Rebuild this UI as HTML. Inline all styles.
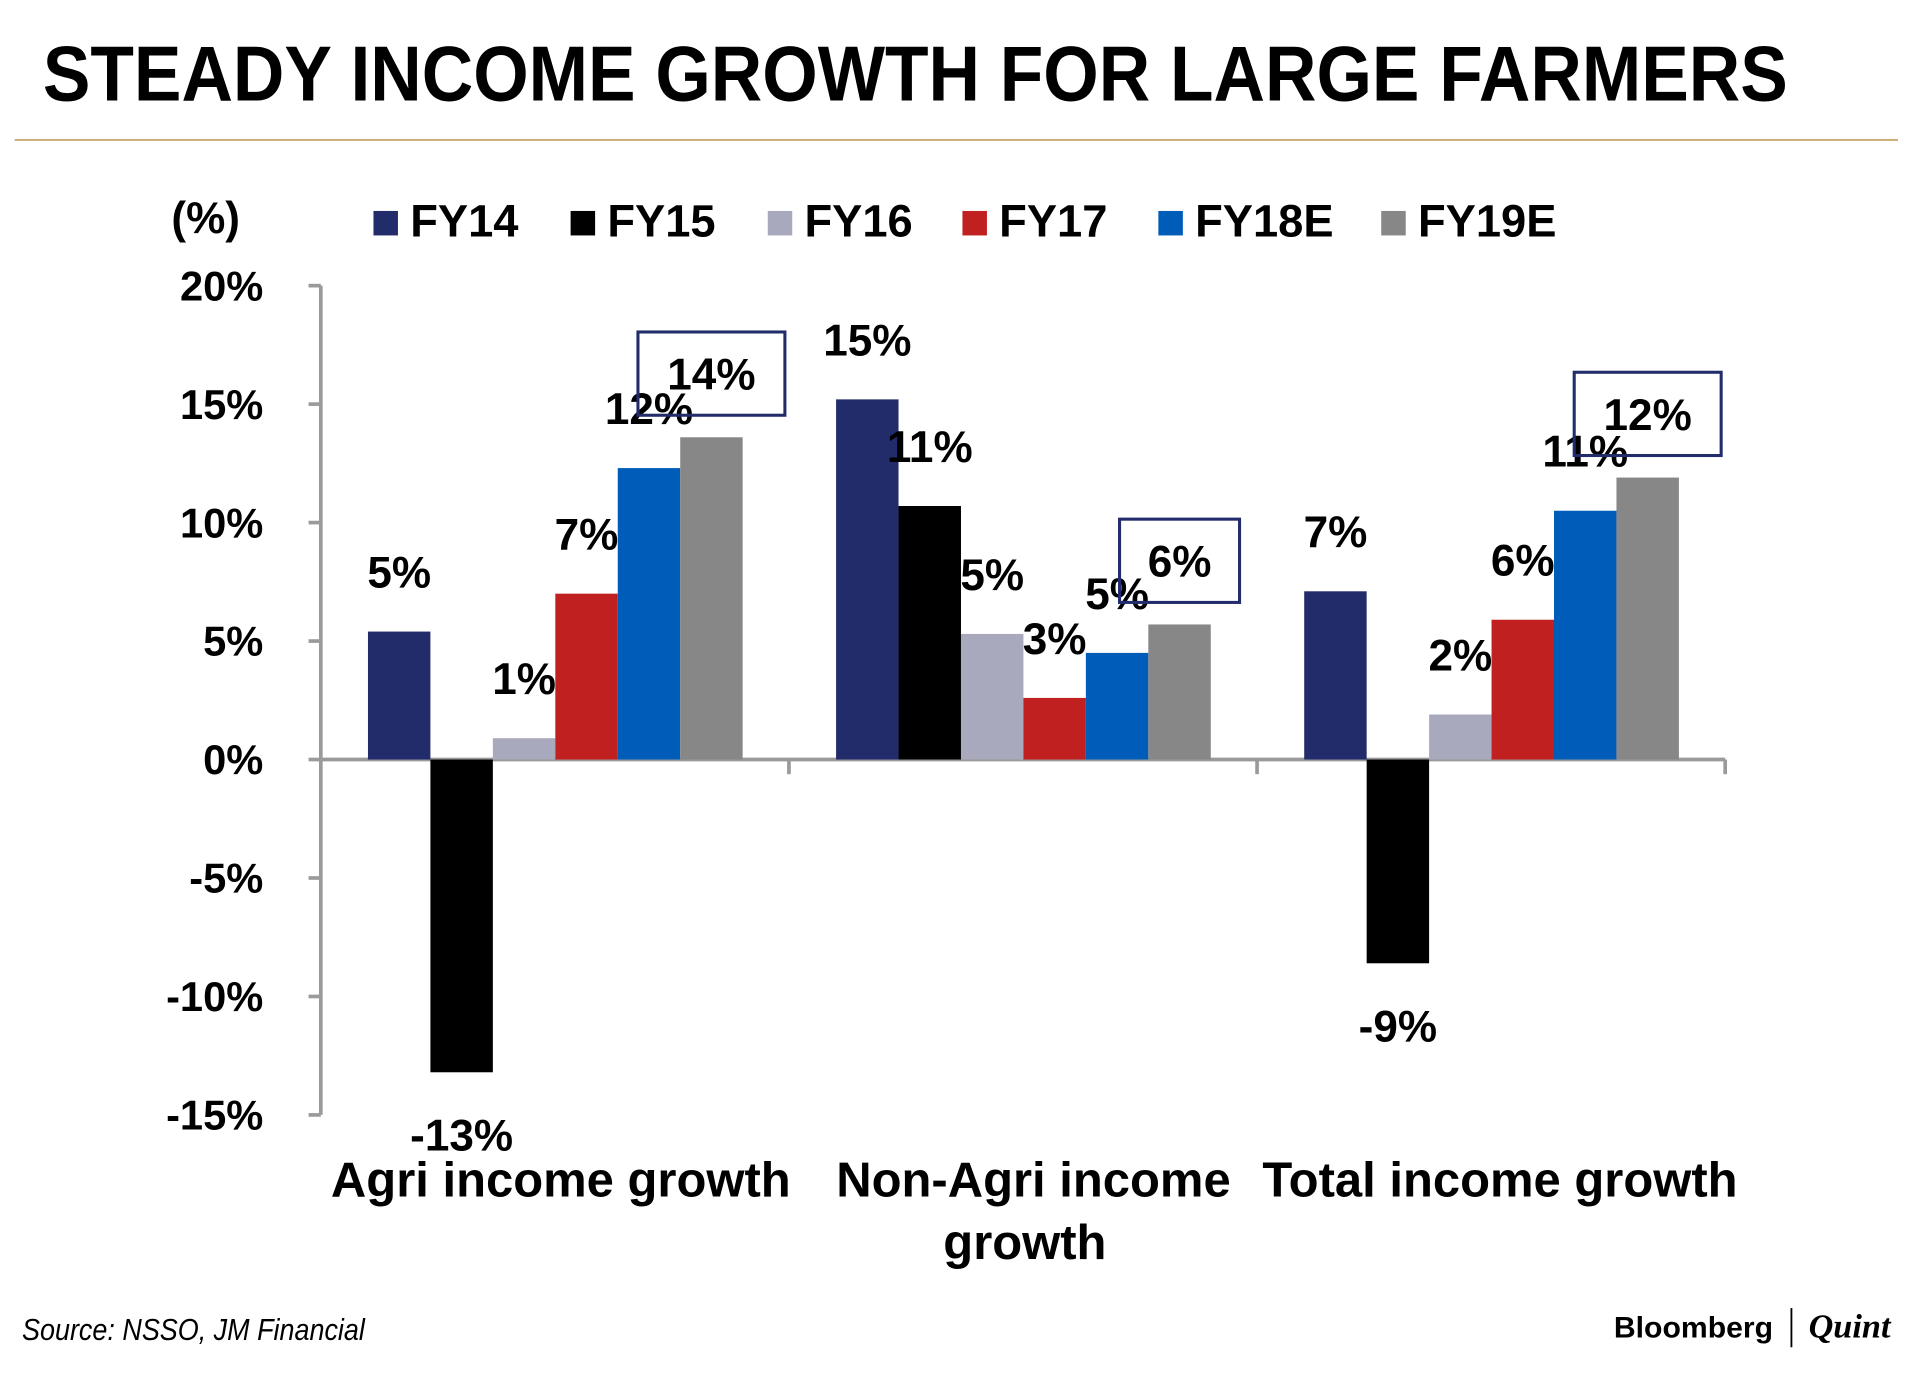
<!DOCTYPE html>
<html><head><meta charset="utf-8"><style>
html,body{margin:0;padding:0;background:#fff;width:1920px;height:1377px;overflow:hidden}
svg text{font-family:"Liberation Sans",sans-serif}
</style></head><body>
<svg id="chart" width="1920" height="1377" viewBox="0 0 1568 1124" xmlns="http://www.w3.org/2000/svg">
<text x="35" y="82" font-size="64" font-weight="bold" textLength="1425" lengthAdjust="spacingAndGlyphs" fill="#000">STEADY INCOME GROWTH FOR LARGE FARMERS</text>
<line x1="12" y1="114" x2="1550" y2="114" stroke="#c9ab70" stroke-width="1.5"/>
<text x="140" y="190" font-size="36" font-weight="bold">(%)</text>
<g id="legend"></g>
<g id="axes"></g>
<g id="bars"></g>
<g id="labels"></g>
<text x="458" y="977" font-size="40" font-weight="bold" text-anchor="middle">Agri income growth</text>
<text x="844" y="977" font-size="40" font-weight="bold" text-anchor="middle">Non-Agri income</text>
<text x="837" y="1028" font-size="40" font-weight="bold" text-anchor="middle">growth</text>
<text x="1225" y="977" font-size="40" font-weight="bold" text-anchor="middle">Total income growth</text>
<text x="18" y="1094" font-size="25" font-style="italic" textLength="280" lengthAdjust="spacingAndGlyphs">Source: NSSO, JM Financial</text>
<text x="1318" y="1092" font-size="24" font-weight="bold" textLength="130" lengthAdjust="spacingAndGlyphs">Bloomberg</text>
<line x1="1463" y1="1068" x2="1463" y2="1100" stroke="#000" stroke-width="1.5"/>
<text x="1477" y="1092" font-size="28" font-style="italic" font-weight="bold" style="font-family:'Liberation Serif',serif">Quint</text>
</svg>
<script>
const categories=["Agri income growth","Non-Agri income growth","Total income growth"];
const seriesNames=["FY14","FY15","FY16","FY17","FY18E","FY19E"];
const seriesColors=["#222c6b","#000000","#a9a9bd","#c0201f","#005cb9","#878787"];
const fy14=[5.4,15.2,7.1];
const fy15=[-13.2,10.7,-8.6];
const fy16=[0.9,5.3,1.9];
const fy17=[7.0,2.6,5.9];
const fy18=[12.3,4.5,10.5];
const fy19=[13.6,5.7,11.9];
const labels14=["5%","15%","7%"];
const labels15=["-13%","11%","-9%"];
const labels16=["1%","5%","2%"];
const labels17=["7%","3%","6%"];
const labels18=["12%","5%","11%"];
const labels19=["14%","6%","12%"];
const yTicks=[20,15,10,5,0,-5,-10,-15];

const NS="http://www.w3.org/2000/svg";
const series=[fy14,fy15,fy16,fy17,fy18,fy19];
const seriesLabels=[labels14,labels15,labels16,labels17,labels18,labels19];
const y=v=>620-v*19.35;
const axisX=262, groupW=382.3, barW=51, pad=38.5;
const bx=(c,s)=>axisX+c*groupW+pad+s*barW;
function mk(tag,attrs,parent,text){const e=document.createElementNS(NS,tag);for(const k in attrs)e.setAttribute(k,attrs[k]);if(text!==undefined)e.textContent=text;parent.appendChild(e);return e;}
const axes=document.getElementById('axes'),bars=document.getElementById('bars'),lab=document.getElementById('labels'),leg=document.getElementById('legend');
let a=mk('line',{x1:axisX,y1:y(20),x2:axisX,y2:y(-15),stroke:'#9a9a9a','stroke-width':3},axes);


yTicks.forEach(t=>{
  let l=mk('line',{x1:axisX-10,y1:y(t),x2:axisX,y2:y(t),stroke:'#9a9a9a','stroke-width':3},axes);
  
  
  let tx=mk('text',{x:215,y:y(t)+12,'font-size':34,'font-weight':'bold','text-anchor':'end'},axes,t+'%');
  
  
});
let xa=mk('line',{x1:axisX,y1:y(0),x2:axisX+3*groupW,y2:y(0),stroke:'#9a9a9a','stroke-width':3},axes);


for(let i=1;i<=3;i++){
  let l=mk('line',{x1:axisX+i*groupW,y1:y(0),x2:axisX+i*groupW,y2:y(0)+12,stroke:'#9a9a9a','stroke-width':3},axes);
  
  
}
categories.forEach((c,ci)=>{
  series.forEach((vals,si)=>{
    const v=vals[ci],x=bx(ci,si),top=Math.min(y(v),y(0)),h=Math.abs(y(v)-y(0));
    let r=mk('rect',{x:x,y:top,width:barW,height:h,fill:seriesColors[si]},bars);
    
    
    const cx=x+barW/2;
    const txt=seriesLabels[si][ci];
    if(si===5){
      const w=txt.length>2?120:98, by=y(v)-18-68;
      let b=mk('rect',{x:cx-w/2,y:by,width:w,height:68,fill:'none',stroke:'#222c6b','stroke-width':2.5},lab);
      
      
      let t=mk('text',{x:cx,y:by+47,'font-size':36,'font-weight':'bold','text-anchor':'middle'},lab,txt);
      
      
    } else {
      const ty=v>=0?y(v)-36:y(v)+64;
      let t=mk('text',{x:cx,y:ty,'font-size':36,'font-weight':'bold','text-anchor':'middle'},lab,txt);
      
      
    }
  });
});
const legX=[305,466,627,786,946,1128];
seriesNames.forEach((n,i)=>{
  let s=mk('rect',{x:legX[i],y:172,width:20,height:20,fill:seriesColors[i]},leg);
  
  
  let t=mk('text',{x:legX[i]+30,y:193,'font-size':37,'font-weight':'bold'},leg,n);
  
  
});
</script>
</body></html>
